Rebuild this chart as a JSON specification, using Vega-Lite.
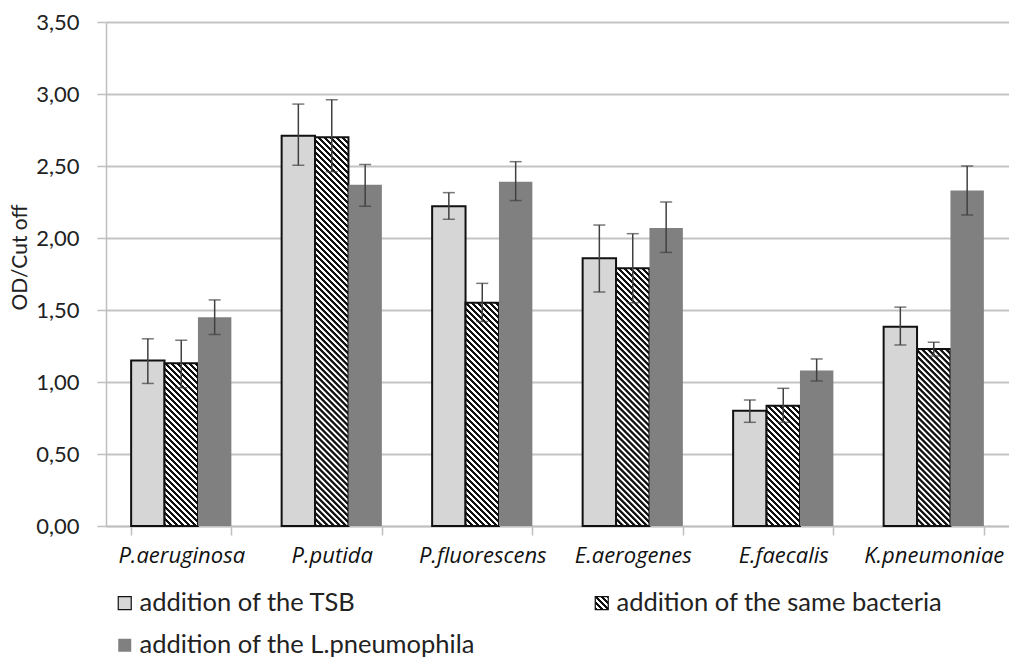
{
"$schema": "https://vega.github.io/schema/vega-lite/v6.json",
"width": 903, "height": 504,
"autosize": "none",
"padding": {"left": 106, "top": 22, "right": 0, "bottom": 133},
"background": "white",
"params": [{"name": "hs", "value": [
{"offset":0,"color":"#111"},{"offset":0.0055,"color":"#111"},{"offset":0.0065,"color":"#fff"},{"offset":0.0115,"color":"#fff"},
{"offset":0.0125,"color":"#111"},{"offset":0.018,"color":"#111"},{"offset":0.019,"color":"#fff"},{"offset":0.024,"color":"#fff"},
{"offset":0.025,"color":"#111"},{"offset":0.0305,"color":"#111"},{"offset":0.0315,"color":"#fff"},{"offset":0.0365,"color":"#fff"},
{"offset":0.0375,"color":"#111"},{"offset":0.043,"color":"#111"},{"offset":0.044,"color":"#fff"},{"offset":0.049,"color":"#fff"},
{"offset":0.05,"color":"#111"},{"offset":0.0555,"color":"#111"},{"offset":0.0565,"color":"#fff"},{"offset":0.0615,"color":"#fff"},
{"offset":0.0625,"color":"#111"},{"offset":0.068,"color":"#111"},{"offset":0.069,"color":"#fff"},{"offset":0.074,"color":"#fff"},
{"offset":0.075,"color":"#111"},{"offset":0.0805,"color":"#111"},{"offset":0.0815,"color":"#fff"},{"offset":0.0865,"color":"#fff"},
{"offset":0.0875,"color":"#111"},{"offset":0.093,"color":"#111"},{"offset":0.094,"color":"#fff"},{"offset":0.099,"color":"#fff"},
{"offset":0.1,"color":"#111"},{"offset":0.1055,"color":"#111"},{"offset":0.1065,"color":"#fff"},{"offset":0.1115,"color":"#fff"},
{"offset":0.1125,"color":"#111"},{"offset":0.118,"color":"#111"},{"offset":0.119,"color":"#fff"},{"offset":0.124,"color":"#fff"},
{"offset":0.125,"color":"#111"},{"offset":0.1305,"color":"#111"},{"offset":0.1315,"color":"#fff"},{"offset":0.1365,"color":"#fff"},
{"offset":0.1375,"color":"#111"},{"offset":0.143,"color":"#111"},{"offset":0.144,"color":"#fff"},{"offset":0.149,"color":"#fff"},
{"offset":0.15,"color":"#111"},{"offset":0.1555,"color":"#111"},{"offset":0.1565,"color":"#fff"},{"offset":0.1615,"color":"#fff"},
{"offset":0.1625,"color":"#111"},{"offset":0.168,"color":"#111"},{"offset":0.169,"color":"#fff"},{"offset":0.174,"color":"#fff"},
{"offset":0.175,"color":"#111"},{"offset":0.1805,"color":"#111"},{"offset":0.1815,"color":"#fff"},{"offset":0.1865,"color":"#fff"},
{"offset":0.1875,"color":"#111"},{"offset":0.193,"color":"#111"},{"offset":0.194,"color":"#fff"},{"offset":0.199,"color":"#fff"},
{"offset":0.2,"color":"#111"},{"offset":0.2055,"color":"#111"},{"offset":0.2065,"color":"#fff"},{"offset":0.2115,"color":"#fff"},
{"offset":0.2125,"color":"#111"},{"offset":0.218,"color":"#111"},{"offset":0.219,"color":"#fff"},{"offset":0.224,"color":"#fff"},
{"offset":0.225,"color":"#111"},{"offset":0.2305,"color":"#111"},{"offset":0.2315,"color":"#fff"},{"offset":0.2365,"color":"#fff"},
{"offset":0.2375,"color":"#111"},{"offset":0.243,"color":"#111"},{"offset":0.244,"color":"#fff"},{"offset":0.249,"color":"#fff"},
{"offset":0.25,"color":"#111"},{"offset":0.2555,"color":"#111"},{"offset":0.2565,"color":"#fff"},{"offset":0.2615,"color":"#fff"},
{"offset":0.2625,"color":"#111"},{"offset":0.268,"color":"#111"},{"offset":0.269,"color":"#fff"},{"offset":0.274,"color":"#fff"},
{"offset":0.275,"color":"#111"},{"offset":0.2805,"color":"#111"},{"offset":0.2815,"color":"#fff"},{"offset":0.2865,"color":"#fff"},
{"offset":0.2875,"color":"#111"},{"offset":0.293,"color":"#111"},{"offset":0.294,"color":"#fff"},{"offset":0.299,"color":"#fff"},
{"offset":0.3,"color":"#111"},{"offset":0.3055,"color":"#111"},{"offset":0.3065,"color":"#fff"},{"offset":0.3115,"color":"#fff"},
{"offset":0.3125,"color":"#111"},{"offset":0.318,"color":"#111"},{"offset":0.319,"color":"#fff"},{"offset":0.324,"color":"#fff"},
{"offset":0.325,"color":"#111"},{"offset":0.3305,"color":"#111"},{"offset":0.3315,"color":"#fff"},{"offset":0.3365,"color":"#fff"},
{"offset":0.3375,"color":"#111"},{"offset":0.343,"color":"#111"},{"offset":0.344,"color":"#fff"},{"offset":0.349,"color":"#fff"},
{"offset":0.35,"color":"#111"},{"offset":0.3555,"color":"#111"},{"offset":0.3565,"color":"#fff"},{"offset":0.3615,"color":"#fff"},
{"offset":0.3625,"color":"#111"},{"offset":0.368,"color":"#111"},{"offset":0.369,"color":"#fff"},{"offset":0.374,"color":"#fff"},
{"offset":0.375,"color":"#111"},{"offset":0.3805,"color":"#111"},{"offset":0.3815,"color":"#fff"},{"offset":0.3865,"color":"#fff"},
{"offset":0.3875,"color":"#111"},{"offset":0.393,"color":"#111"},{"offset":0.394,"color":"#fff"},{"offset":0.399,"color":"#fff"},
{"offset":0.4,"color":"#111"},{"offset":0.4055,"color":"#111"},{"offset":0.4065,"color":"#fff"},{"offset":0.4115,"color":"#fff"},
{"offset":0.4125,"color":"#111"},{"offset":0.418,"color":"#111"},{"offset":0.419,"color":"#fff"},{"offset":0.424,"color":"#fff"},
{"offset":0.425,"color":"#111"},{"offset":0.4305,"color":"#111"},{"offset":0.4315,"color":"#fff"},{"offset":0.4365,"color":"#fff"},
{"offset":0.4375,"color":"#111"},{"offset":0.443,"color":"#111"},{"offset":0.444,"color":"#fff"},{"offset":0.449,"color":"#fff"},
{"offset":0.45,"color":"#111"},{"offset":0.4555,"color":"#111"},{"offset":0.4565,"color":"#fff"},{"offset":0.4615,"color":"#fff"},
{"offset":0.4625,"color":"#111"},{"offset":0.468,"color":"#111"},{"offset":0.469,"color":"#fff"},{"offset":0.474,"color":"#fff"},
{"offset":0.475,"color":"#111"},{"offset":0.4805,"color":"#111"},{"offset":0.4815,"color":"#fff"},{"offset":0.4865,"color":"#fff"},
{"offset":0.4875,"color":"#111"},{"offset":0.493,"color":"#111"},{"offset":0.494,"color":"#fff"},{"offset":0.499,"color":"#fff"},
{"offset":0.5,"color":"#111"},{"offset":0.5055,"color":"#111"},{"offset":0.5065,"color":"#fff"},{"offset":0.5115,"color":"#fff"},
{"offset":0.5125,"color":"#111"},{"offset":0.518,"color":"#111"},{"offset":0.519,"color":"#fff"},{"offset":0.524,"color":"#fff"},
{"offset":0.525,"color":"#111"},{"offset":0.5305,"color":"#111"},{"offset":0.5315,"color":"#fff"},{"offset":0.5365,"color":"#fff"},
{"offset":0.5375,"color":"#111"},{"offset":0.543,"color":"#111"},{"offset":0.544,"color":"#fff"},{"offset":0.549,"color":"#fff"},
{"offset":0.55,"color":"#111"},{"offset":0.5555,"color":"#111"},{"offset":0.5565,"color":"#fff"},{"offset":0.5615,"color":"#fff"},
{"offset":0.5625,"color":"#111"},{"offset":0.568,"color":"#111"},{"offset":0.569,"color":"#fff"},{"offset":0.574,"color":"#fff"},
{"offset":0.575,"color":"#111"},{"offset":0.5805,"color":"#111"},{"offset":0.5815,"color":"#fff"},{"offset":0.5865,"color":"#fff"},
{"offset":0.5875,"color":"#111"},{"offset":0.593,"color":"#111"},{"offset":0.594,"color":"#fff"},{"offset":0.599,"color":"#fff"},
{"offset":0.6,"color":"#111"},{"offset":0.6055,"color":"#111"},{"offset":0.6065,"color":"#fff"},{"offset":0.6115,"color":"#fff"},
{"offset":0.6125,"color":"#111"},{"offset":0.618,"color":"#111"},{"offset":0.619,"color":"#fff"},{"offset":0.624,"color":"#fff"},
{"offset":0.625,"color":"#111"},{"offset":0.6305,"color":"#111"},{"offset":0.6315,"color":"#fff"},{"offset":0.6365,"color":"#fff"},
{"offset":0.6375,"color":"#111"},{"offset":0.643,"color":"#111"},{"offset":0.644,"color":"#fff"},{"offset":0.649,"color":"#fff"},
{"offset":0.65,"color":"#111"},{"offset":0.6555,"color":"#111"},{"offset":0.6565,"color":"#fff"},{"offset":0.6615,"color":"#fff"},
{"offset":0.6625,"color":"#111"},{"offset":0.668,"color":"#111"},{"offset":0.669,"color":"#fff"},{"offset":0.674,"color":"#fff"},
{"offset":0.675,"color":"#111"},{"offset":0.6805,"color":"#111"},{"offset":0.6815,"color":"#fff"},{"offset":0.6865,"color":"#fff"},
{"offset":0.6875,"color":"#111"},{"offset":0.693,"color":"#111"},{"offset":0.694,"color":"#fff"},{"offset":0.699,"color":"#fff"},
{"offset":0.7,"color":"#111"},{"offset":0.7055,"color":"#111"},{"offset":0.7065,"color":"#fff"},{"offset":0.7115,"color":"#fff"},
{"offset":0.7125,"color":"#111"},{"offset":0.718,"color":"#111"},{"offset":0.719,"color":"#fff"},{"offset":0.724,"color":"#fff"},
{"offset":0.725,"color":"#111"},{"offset":0.7305,"color":"#111"},{"offset":0.7315,"color":"#fff"},{"offset":0.7365,"color":"#fff"},
{"offset":0.7375,"color":"#111"},{"offset":0.743,"color":"#111"},{"offset":0.744,"color":"#fff"},{"offset":0.749,"color":"#fff"},
{"offset":0.75,"color":"#111"},{"offset":0.7555,"color":"#111"},{"offset":0.7565,"color":"#fff"},{"offset":0.7615,"color":"#fff"},
{"offset":0.7625,"color":"#111"},{"offset":0.768,"color":"#111"},{"offset":0.769,"color":"#fff"},{"offset":0.774,"color":"#fff"},
{"offset":0.775,"color":"#111"},{"offset":0.7805,"color":"#111"},{"offset":0.7815,"color":"#fff"},{"offset":0.7865,"color":"#fff"},
{"offset":0.7875,"color":"#111"},{"offset":0.793,"color":"#111"},{"offset":0.794,"color":"#fff"},{"offset":0.799,"color":"#fff"},
{"offset":0.8,"color":"#111"},{"offset":0.8055,"color":"#111"},{"offset":0.8065,"color":"#fff"},{"offset":0.8115,"color":"#fff"},
{"offset":0.8125,"color":"#111"},{"offset":0.818,"color":"#111"},{"offset":0.819,"color":"#fff"},{"offset":0.824,"color":"#fff"},
{"offset":0.825,"color":"#111"},{"offset":0.8305,"color":"#111"},{"offset":0.8315,"color":"#fff"},{"offset":0.8365,"color":"#fff"},
{"offset":0.8375,"color":"#111"},{"offset":0.843,"color":"#111"},{"offset":0.844,"color":"#fff"},{"offset":0.849,"color":"#fff"},
{"offset":0.85,"color":"#111"},{"offset":0.8555,"color":"#111"},{"offset":0.8565,"color":"#fff"},{"offset":0.8615,"color":"#fff"},
{"offset":0.8625,"color":"#111"},{"offset":0.868,"color":"#111"},{"offset":0.869,"color":"#fff"},{"offset":0.874,"color":"#fff"},
{"offset":0.875,"color":"#111"},{"offset":0.8805,"color":"#111"},{"offset":0.8815,"color":"#fff"},{"offset":0.8865,"color":"#fff"},
{"offset":0.8875,"color":"#111"},{"offset":0.893,"color":"#111"},{"offset":0.894,"color":"#fff"},{"offset":0.899,"color":"#fff"},
{"offset":0.9,"color":"#111"},{"offset":0.9055,"color":"#111"},{"offset":0.9065,"color":"#fff"},{"offset":0.9115,"color":"#fff"},
{"offset":0.9125,"color":"#111"},{"offset":0.918,"color":"#111"},{"offset":0.919,"color":"#fff"},{"offset":0.924,"color":"#fff"},
{"offset":0.925,"color":"#111"},{"offset":0.9305,"color":"#111"},{"offset":0.9315,"color":"#fff"},{"offset":0.9365,"color":"#fff"},
{"offset":0.9375,"color":"#111"},{"offset":0.943,"color":"#111"},{"offset":0.944,"color":"#fff"},{"offset":0.949,"color":"#fff"},
{"offset":0.95,"color":"#111"},{"offset":0.9555,"color":"#111"},{"offset":0.9565,"color":"#fff"},{"offset":0.9615,"color":"#fff"},
{"offset":0.9625,"color":"#111"},{"offset":0.968,"color":"#111"},{"offset":0.969,"color":"#fff"},{"offset":0.974,"color":"#fff"},
{"offset":0.975,"color":"#111"},{"offset":0.9805,"color":"#111"},{"offset":0.9815,"color":"#fff"},{"offset":0.9865,"color":"#fff"},
{"offset":0.9875,"color":"#111"},{"offset":0.993,"color":"#111"},{"offset":0.994,"color":"#fff"},{"offset":0.999,"color":"#fff"}
]}],
"data": {"values": [
{"org":"P.aeruginosa","series":"addition of the TSB","value":1.15,"lo":0.99,"hi":1.30},
{"org":"P.aeruginosa","series":"addition of the same bacteria","value":1.13,"lo":0.96,"hi":1.29},
{"org":"P.aeruginosa","series":"addition of the L.pneumophila","value":1.45,"lo":1.33,"hi":1.57},
{"org":"P.putida","series":"addition of the TSB","value":2.71,"lo":2.505,"hi":2.93},
{"org":"P.putida","series":"addition of the same bacteria","value":2.70,"lo":2.46,"hi":2.96},
{"org":"P.putida","series":"addition of the L.pneumophila","value":2.37,"lo":2.22,"hi":2.51},
{"org":"P.fluorescens","series":"addition of the TSB","value":2.22,"lo":2.13,"hi":2.315},
{"org":"P.fluorescens","series":"addition of the same bacteria","value":1.55,"lo":1.42,"hi":1.685},
{"org":"P.fluorescens","series":"addition of the L.pneumophila","value":2.39,"lo":2.26,"hi":2.53},
{"org":"E.aerogenes","series":"addition of the TSB","value":1.86,"lo":1.625,"hi":2.09},
{"org":"E.aerogenes","series":"addition of the same bacteria","value":1.79,"lo":1.55,"hi":2.03},
{"org":"E.aerogenes","series":"addition of the L.pneumophila","value":2.07,"lo":1.90,"hi":2.25},
{"org":"E.faecalis","series":"addition of the TSB","value":0.80,"lo":0.72,"hi":0.875},
{"org":"E.faecalis","series":"addition of the same bacteria","value":0.835,"lo":0.72,"hi":0.956},
{"org":"E.faecalis","series":"addition of the L.pneumophila","value":1.08,"lo":1.007,"hi":1.16},
{"org":"K.pneumoniae","series":"addition of the TSB","value":1.384,"lo":1.257,"hi":1.52},
{"org":"K.pneumoniae","series":"addition of the same bacteria","value":1.23,"lo":1.18,"hi":1.276},
{"org":"K.pneumoniae","series":"addition of the L.pneumophila","value":2.33,"lo":2.16,"hi":2.50}
]},
"config": {"view": {"stroke": null}},
"encoding": {
  "x": {"field": "org", "type": "nominal",
    "sort": ["P.aeruginosa","P.putida","P.fluorescens","E.aerogenes","E.faecalis","K.pneumoniae"],
    "scale": {"paddingInner": 0.334, "paddingOuter": 0.167},
    "axis": {"title": null, "labelAngle": 0, "labelFont": "Open Sans", "labelFontStyle": "italic", "labelFontSize": 22, "labelColor": "#111",
      "labelPadding": 10, "tickSize": 9, "tickColor": "#bfbfbf", "tickWidth": 1.5, "tickBand": "extent",
      "domainColor": "#bfbfbf", "domainWidth": 1.5, "grid": false}},
  "xOffset": {"field": "series", "type": "nominal",
    "sort": ["addition of the TSB","addition of the same bacteria","addition of the L.pneumophila"]}
},
"layer": [
  {"mark": {"type": "bar", "strokeWidth": 2},
   "encoding": {
     "y": {"field": "value", "type": "quantitative", "title": "OD/Cut off",
       "scale": {"domain": [0, 3.5], "nice": false, "zero": true},
       "axis": {"values": [0,0.5,1,1.5,2,2.5,3,3.5],
         "labelExpr": "replace(format(datum.value, '.2f'), '.', ',')",
         "labelFont": "Lato", "labelFontSize": 22, "labelColor": "#222", "labelPadding": 18,
         "tickSize": 9, "tickColor": "#bfbfbf", "tickWidth": 1.5,
         "domainColor": "#bfbfbf", "domainWidth": 1.5,
         "grid": true, "gridColor": "#c4c4c4", "gridWidth": 1.8,
         "titleFont": "Lato", "titleFontSize": 21, "titleFontWeight": "normal", "titleColor": "#222",
         "titleAngle": -90, "titleX": -86, "titleY": 235, "titleAlign": "center", "titleBaseline": "middle"}},
     "fill": {"field": "series", "type": "nominal",
       "scale": {"domain": ["addition of the TSB","addition of the same bacteria","addition of the L.pneumophila"],
                 "range": ["#d6d6d6", {"expr": "{gradient: 'linear', x1: 0, y1: 1, x2: 18.49, y2: -17.49, stops: hs}"}, "#808080"]},
       "condition": {"test": "datum.series === 'addition of the same bacteria'",
         "value": {"expr": "{gradient: 'linear', x1: 0, y1: 1, x2: 480.83*33.5/(1122.25+pow(datum.value*144,2)), y2: 1-480.83*datum.value*144/(1122.25+pow(datum.value*144,2)), stops: hs}"}},
       "legend": {"orient": "none", "legendX": 6, "legendY": 568, "columns": 2, "direction": "horizontal", "title": null, "padding": 0,
         "symbolType": "square", "symbolSize": 169, "symbolStrokeWidth": 1.2,
         "symbolStrokeColor": {"expr": "datum.value === 'addition of the L.pneumophila' ? 'transparent' : '#111'"},
         "labelFont": "Lato", "labelFontSize": 25.5, "labelColor": "#222", "labelOffset": 2, "labelLimit": 500,
         "columnPadding": 114, "rowPadding": 15.5}},
     "stroke": {"condition": {"test": "datum.series === 'addition of the L.pneumophila'", "value": null}, "value": "#111"}
   }},
  {"mark": {"type": "rule", "color": "#404040", "strokeWidth": 1.5},
   "encoding": {"y": {"field": "lo", "type": "quantitative", "title": "OD/Cut off"}, "y2": {"field": "hi"}}},
  {"mark": {"type": "tick", "color": "#404040", "thickness": 1.5, "size": 12},
   "encoding": {"y": {"field": "lo", "type": "quantitative", "title": "OD/Cut off"}}},
  {"mark": {"type": "tick", "color": "#404040", "thickness": 1.5, "size": 12},
   "encoding": {"y": {"field": "hi", "type": "quantitative", "title": "OD/Cut off"}}}
]
}
